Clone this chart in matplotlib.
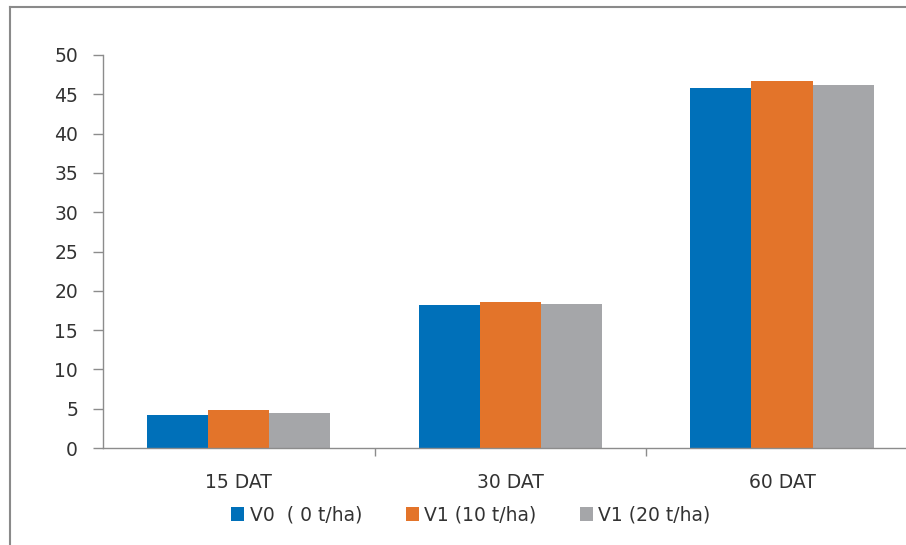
import matplotlib
matplotlib.use("Agg")
import matplotlib.pyplot as plt
from matplotlib.lines import Line2D
import numpy as np

categories = ["15 DAT", "30 DAT", "60 DAT"]
series_names = ["V0  ( 0 t/ha)", "V1 (10 t/ha)", "V1 (20 t/ha)"]
v0 = [4.2, 18.2, 45.8]
v1_10 = [4.8, 18.6, 46.7]
v1_20 = [4.45, 18.3, 46.2]
yticks = [0, 5, 10, 15, 20, 25, 30, 35, 40, 45, 50]

colors = ["#0070b9", "#e3742a", "#a5a6a9"]

W, H = 906, 545
fs = 13.5
fig = plt.figure(figsize=(W / 100, H / 100), dpi=100)
left, right, bottom, top = 103, 906, 448, 55
ax = fig.add_axes([left / W, (H - bottom) / H, (right - left) / W, (bottom - top) / H])

x = np.arange(len(categories))
bw = 0.225
for i, (vals, name) in enumerate(zip([v0, v1_10, v1_20], series_names)):
    ax.bar(x + (i - 1) * bw, vals, width=bw, color=colors[i], label=name, zorder=2)

cat_w = 271.6
ax.set_xlim(-0.5, -0.5 + (right - left) / cat_w)
ax.set_ylim(0, 50)
ax.set_yticks(yticks)
ax.set_yticklabels([str(t) for t in yticks])

ax.set_xticks(x)
ax.set_xticklabels(categories)
ax.set_xticks([0.5, 1.5], minor=True)
ax.tick_params(axis="x", which="major", length=0, pad=18, labelsize=fs, labelcolor="#333333")
ax.tick_params(axis="x", which="minor", length=6, width=1, color="#8c8c8c", direction="out")
ax.tick_params(axis="y", length=7, width=1, color="#8c8c8c", direction="out", pad=11,
               labelsize=fs, labelcolor="#333333")

for s in ["top", "right"]:
    ax.spines[s].set_visible(False)
for s in ["left", "bottom"]:
    ax.spines[s].set_color("#8c8c8c")
    ax.spines[s].set_linewidth(1)

leg = fig.legend(loc="center", bbox_to_anchor=(471 / W, 1 - 515 / H), ncol=3, frameon=False,
                 fontsize=fs, handlelength=0.7, handleheight=0.7, handletextpad=0.3,
                 columnspacing=2.3)
for t in leg.get_texts():
    t.set_color("#333333")

# outer frame (left and top)
fig.add_artist(Line2D([10 / W, 10 / W], [0, 1 - 7 / H], transform=fig.transFigure,
                      color="#8a8a8a", linewidth=1.5))
fig.add_artist(Line2D([10 / W, 1], [1 - 7 / H, 1 - 7 / H], transform=fig.transFigure,
                      color="#8a8a8a", linewidth=1.5))

fig.savefig("out.png", dpi=100, facecolor="white")
